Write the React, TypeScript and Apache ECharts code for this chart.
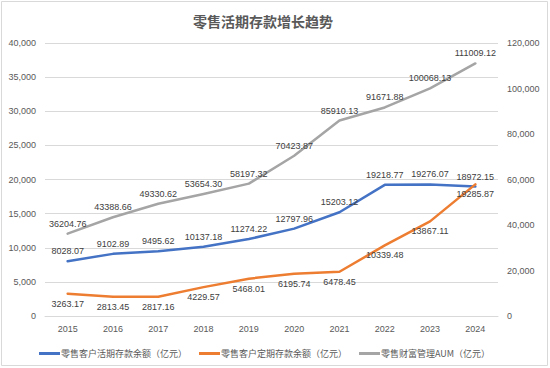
import React, { useEffect, useRef } from "react";
import * as echarts from "echarts";

const years = ["2015", "2016", "2017", "2018", "2019", "2020", "2021", "2022", "2023", "2024"];
const demandDeposits = [8028.07, 9102.89, 9495.62, 10137.18, 11274.22, 12797.96, 15203.12, 19218.77, 19276.07, 18972.15];
const timeDeposits = [3263.17, 2813.45, 2817.16, 4229.57, 5468.01, 6195.74, 6478.45, 10339.48, 13867.11, 19285.87];
const wealthAUM = [36204.76, 43388.66, 49330.62, 53654.3, 58197.32, 70423.87, 85910.13, 91671.88, 100068.13, 111009.12];

const titleText = "零售活期存款增长趋势";
const seriesNames = ["零售客户活期存款余额（亿元）", "零售客户定期存款余额（亿元）", "零售财富管理AUM（亿元）"];
const colors = ["#4472C4", "#ED7D31", "#A5A5A5"];

const numFont = "'Liberation Sans', Arial, sans-serif";
const cjkFont = "'Noto Sans CJK SC', 'Liberation Sans', sans-serif";

export default function App() {
  const ref = useRef<HTMLDivElement>(null);
  useEffect(() => {
    if (!ref.current) return;
    const chart = echarts.init(ref.current, undefined, { renderer: "svg" });
    const lbl = (pos: string) => ({
      show: true,
      position: pos,
      distance: 5,
      fontSize: 9,
      fontFamily: numFont,
      color: "#404040",
      formatter: (p: any) => Number(p.value).toFixed(2),
    });
    const fmt = (v: number) => v.toLocaleString("en-US");
    chart.setOption({
      animation: false,
      backgroundColor: "#ffffff",
      title: {
        text: titleText,
        left: 188,
        top: 9,
        textStyle: { fontSize: 14, fontWeight: "bold", color: "#595959", fontFamily: cjkFont },
      },
      graphic: [
        {
          type: "rect",
          shape: { x: 1.5, y: 1.5, width: 546, height: 364 },
          style: { fill: "none", stroke: "#D9D9D9", lineWidth: 1 },
          silent: true,
          z: -1,
        },
      ],
      legend: {
        left: 34,
        top: 344,
        itemWidth: 21,
        itemHeight: 3,
        itemGap: 12,
        icon: "rect",
        textStyle: { fontSize: 9, color: "#595959", fontFamily: cjkFont, padding: [0, 0, 0, -4] },
        data: seriesNames,
      },
      grid: { left: 45, right: 52, top: 43, bottom: 52, containLabel: false },
      xAxis: {
        type: "category",
        data: years,
        boundaryGap: true,
        axisLine: { show: true, lineStyle: { color: "#D9D9D9", width: 1 } },
        axisTick: { show: false },
        axisLabel: { fontSize: 9, color: "#595959", fontFamily: numFont, margin: 8 },
      },
      yAxis: [
        {
          type: "value",
          min: 0,
          max: 40000,
          interval: 5000,
          axisLine: { show: false },
          axisTick: { show: false },
          splitLine: { lineStyle: { color: "#D9D9D9", width: 1 } },
          axisLabel: { fontSize: 9, color: "#595959", fontFamily: numFont, margin: 9, formatter: fmt },
        },
        {
          type: "value",
          min: 0,
          max: 120000,
          interval: 20000,
          axisLine: { show: false },
          axisTick: { show: false },
          splitLine: { show: false },
          axisLabel: { fontSize: 9, color: "#595959", fontFamily: numFont, margin: 9, formatter: fmt },
        },
      ],
      series: [
        {
          name: seriesNames[0],
          type: "line",
          data: demandDeposits,
          yAxisIndex: 0,
          symbol: "circle",
          symbolSize: 1,
          color: colors[0],
          lineStyle: { width: 2.5, color: colors[0], cap: "round", join: "round" },
          label: lbl("top"),
          z: 3,
        },
        {
          name: seriesNames[1],
          type: "line",
          data: timeDeposits,
          yAxisIndex: 0,
          symbol: "circle",
          symbolSize: 1,
          color: colors[1],
          lineStyle: { width: 2.5, color: colors[1], cap: "round", join: "round" },
          label: lbl("bottom"),
          z: 4,
        },
        {
          name: seriesNames[2],
          type: "line",
          data: wealthAUM,
          yAxisIndex: 1,
          symbol: "circle",
          symbolSize: 1,
          color: colors[2],
          lineStyle: { width: 2.5, color: colors[2], cap: "round", join: "round" },
          label: lbl("top"),
          z: 2,
        },
      ],
    });
    return () => chart.dispose();
  }, []);
  return (
    <div
      ref={ref}
      style={{ position: "fixed", left: 0, top: 0, width: 550, height: 368, background: "#fff" }}
    />
  );
}
